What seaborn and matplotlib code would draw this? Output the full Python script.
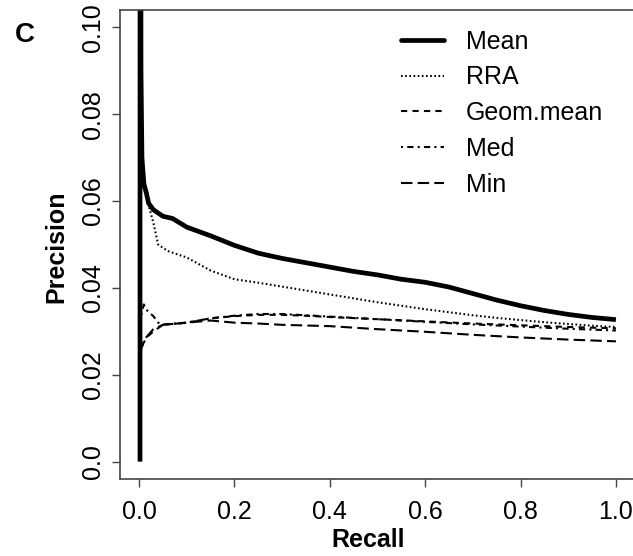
import matplotlib
matplotlib.use("Agg")
import matplotlib.pyplot as plt
import seaborn as sns
import pandas as pd
from matplotlib.lines import Line2D

# ---- data ----
mean_recall = [0.002, 0.002, 0.003, 0.004, 0.006, 0.01, 0.015, 0.02, 0.03, 0.05, 0.07, 0.1, 0.15, 0.2,
               0.25, 0.3, 0.35, 0.4, 0.45, 0.5, 0.55, 0.6, 0.65, 0.7, 0.75, 0.8, 0.85, 0.9, 0.95, 1.0]
mean_prec = [0.0, 0.5, 0.2, 0.09, 0.07, 0.064, 0.062, 0.0595, 0.058, 0.0565, 0.056, 0.054, 0.052, 0.0498,
             0.048, 0.0468, 0.0458, 0.0448, 0.0438, 0.043, 0.042, 0.0413, 0.0402, 0.0387, 0.0372, 0.0359,
             0.0348, 0.0339, 0.0332, 0.0327]

rra_recall = [0.004, 0.01, 0.02, 0.03, 0.04, 0.06, 0.1, 0.15, 0.2, 0.25, 0.3, 0.35, 0.4, 0.45, 0.5,
              0.55, 0.6, 0.65, 0.7, 0.75, 0.8, 0.85, 0.9, 0.95, 1.0]
rra_prec = [0.066, 0.063, 0.059, 0.055, 0.050, 0.0485, 0.047, 0.044, 0.042, 0.0412, 0.0403, 0.0394,
            0.0385, 0.0376, 0.0367, 0.0359, 0.0351, 0.0344, 0.0337, 0.0331, 0.0326, 0.0321, 0.0317,
            0.0313, 0.031]

geom_recall = [0.002, 0.005, 0.01, 0.02, 0.03, 0.05, 0.1, 0.15, 0.2, 0.25, 0.3, 0.35, 0.4, 0.5, 0.6,
               0.7, 0.8, 0.9, 1.0]
geom_prec = [0.024, 0.026, 0.0275, 0.029, 0.030, 0.0315, 0.032, 0.033, 0.0335, 0.0338, 0.0338, 0.0336,
             0.0333, 0.0328, 0.0323, 0.0318, 0.0314, 0.031, 0.0307]

med_recall = [0.002, 0.005, 0.01, 0.015, 0.02, 0.03, 0.04, 0.05, 0.1, 0.15, 0.2, 0.25, 0.3, 0.35, 0.4,
              0.5, 0.6, 0.7, 0.8, 0.9, 1.0]
med_prec = [0.030, 0.034, 0.0362, 0.035, 0.0345, 0.0335, 0.032, 0.0316, 0.032, 0.033, 0.0336, 0.034,
            0.034, 0.0337, 0.0334, 0.0328, 0.0322, 0.0316, 0.0311, 0.0306, 0.0302]

min_recall = [0.002, 0.01, 0.03, 0.05, 0.1, 0.15, 0.2, 0.25, 0.3, 0.4, 0.5, 0.6, 0.7, 0.8, 0.9, 1.0]
min_prec = [0.025, 0.028, 0.0305, 0.0315, 0.032, 0.0325, 0.032, 0.0318, 0.0315, 0.0312, 0.0305,
            0.0299, 0.0292, 0.0286, 0.0281, 0.0277]

series_names = ["Mean", "RRA", "Geom.mean", "Med", "Min"]
x_ticks = [0.0, 0.2, 0.4, 0.6, 0.8, 1.0]
x_ticklabels = ["0.0", "0.2", "0.4", "0.6", "0.8", "1.0"]
y_ticks = [0.0, 0.02, 0.04, 0.06, 0.08, 0.10]
y_ticklabels = ["0.0", "0.02", "0.04", "0.06", "0.08", "0.10"]

# ---- styling ----
sns.set_style("ticks")
plt.rcParams["font.family"] = ["Liberation Sans", "DejaVu Sans"]
plt.rcParams["text.color"] = "black"
plt.rcParams["axes.labelcolor"] = "black"
plt.rcParams["xtick.labelcolor"] = "black"
plt.rcParams["ytick.labelcolor"] = "black"

W, H = 633, 556
fig = plt.figure(figsize=(W / 100, H / 100), dpi=100)
ax = fig.add_axes([120 / W, 77 / H, 515 / W, 469 / H])

data = {
    "Mean": (mean_recall, mean_prec),
    "RRA": (rra_recall, rra_prec),
    "Geom.mean": (geom_recall, geom_prec),
    "Med": (med_recall, med_prec),
    "Min": (min_recall, min_prec),
}
styles = {
    "Mean": dict(lw=3.4, linestyle="-"),
    "RRA": dict(lw=1.5, linestyle=(0, (0.8, 1.2))),
    "Geom.mean": dict(lw=1.5, linestyle=(0, (3.0, 2.5))),
    "Med": dict(lw=1.5, linestyle=(0, (1.0, 2.0, 3.0, 2.0))),
    "Min": dict(lw=1.5, linestyle=(0, (5.5, 2.5))),
}

frames = []
for name in series_names:
    r, p = data[name]
    frames.append(pd.DataFrame({"recall": r, "precision": p, "method": name}))
df = pd.concat(frames, ignore_index=True)

for name in series_names[::-1]:
    sub = df[df["method"] == name]
    sns.lineplot(data=sub, x="recall", y="precision", sort=False, estimator=None,
                 color="black", ax=ax, solid_capstyle="butt", dash_capstyle="butt",
                 **styles[name])
handles = [Line2D([], [], color="black", **styles[n]) for n in series_names]

FS = 18
ax.set_xlim(-0.04, 1.04)
ax.set_ylim(-0.004, 0.104)
ax.set_xticks(x_ticks)
ax.set_xticklabels(x_ticklabels)
ax.set_yticks(y_ticks)
ax.set_yticklabels(y_ticklabels, rotation=90, va="center")
ax.tick_params(axis="both", labelsize=FS, length=6, width=1, color="#444444")
ax.tick_params(axis="x", pad=9)
ax.tick_params(axis="y", pad=5)
for s in ["left", "bottom", "top"]:
    ax.spines[s].set_visible(True)
    ax.spines[s].set_color("#444444")
    ax.spines[s].set_linewidth(1.2)
ax.spines["right"].set_visible(False)

ax.set_xlabel("Recall", fontsize=FS, fontweight="bold", color="black", va="center")
ax.set_ylabel("Precision", fontsize=FS, fontweight="bold", color="black", va="center")
ax.xaxis.set_label_coords((368 - 120) / 515, (479 - 540) / 469)
ax.yaxis.set_label_coords((56 - 120) / 515, (479 - 247) / 469)

leg = ax.legend(handles, series_names, loc="upper left", bbox_to_anchor=(0.545, 0.958),
                frameon=False, fontsize=FS, handlelength=1.75, handletextpad=0.85,
                labelspacing=0.47, borderpad=0, borderaxespad=0)
for t in leg.get_texts():
    t.set_color("black")

fig.text(15 / W, 1 - 35 / H, "C", fontsize=20, fontweight="bold", va="center", ha="left",
         color="black")

fig.savefig("out.png", dpi=100)
